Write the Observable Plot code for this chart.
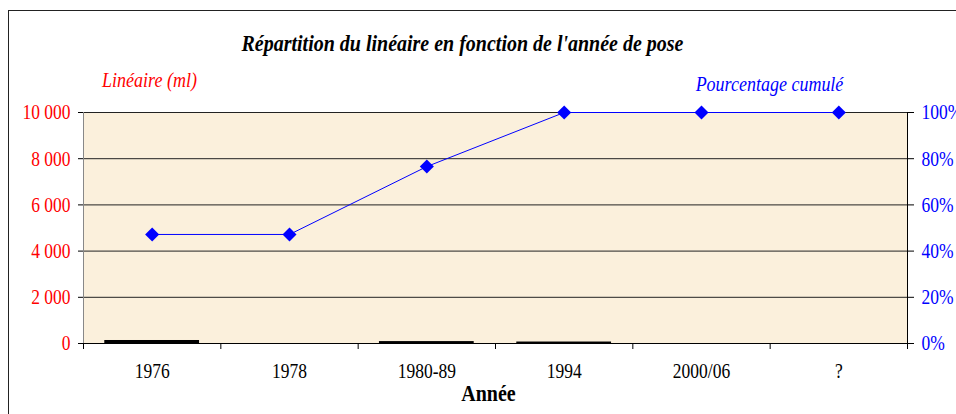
<!DOCTYPE html>
<html>
<head>
<meta charset="utf-8">
<script src="https://cdn.jsdelivr.net/npm/d3@7"></script>
<script src="https://cdn.jsdelivr.net/npm/@observablehq/plot@0.6"></script>
<style>
  body { margin: 0; background: #fff; }
  #chart { position: relative; width: 956px; height: 414px; overflow: hidden; }
  #box { position: absolute; left: 8px; top: 10px; width: 1000px; height: 500px; border: 1.5px solid #222; }
  #chart svg { position: absolute; left: 0; top: 0; }
</style>
</head>
<body>
<div id="chart"><div id="box"></div></div>
<script>
// Linear metres laid per installation period, and cumulative share
const categories = ["1976", "1978", "1980-89", "1994", "2000/06", "?"];
const lineaire = [130, 0, 83, 64, 0, 0];          // ml
const cumul = [47.2, 47.2, 76.6, 100, 100, 100];  // %
const leftTicks = [0, 2000, 4000, 6000, 8000, 10000];
const rightTicks = [0, 20, 40, 60, 80, 100];

const RED = "#ff0000";
const BLUE = "#0000ff";
const MAX = 10000;
const TICK_FONT = 17.5;

const rows = categories.map((c, i) => ({c, i, ml: lineaire[i], pct: cumul[i]}));

// French thousands separator: "10 000"
const frFormat = d3.formatLocale({decimal: ",", thousands: " ", grouping: [3], currency: ["", " €"]}).format(",");

// Excel-style diamond (a square turned 45°)
const diamond = {
  draw(ctx, size) {
    const r = Math.sqrt(size / 2);
    ctx.moveTo(0, -r); ctx.lineTo(r, 0); ctx.lineTo(0, r); ctx.lineTo(-r, 0); ctx.closePath();
  }
};

const chart = Plot.plot({
  width: 956,
  height: 414,
  marginTop: 112,
  marginLeft: 83,
  marginRight: 49,
  marginBottom: 71,
  style: {fontFamily: "'Liberation Serif', 'Times New Roman', serif", fontSize: "17px", background: "transparent"},
  x: {type: "linear", domain: [0, categories.length], axis: null},
  y: {domain: [0, MAX], axis: null},
  marks: [
    Plot.frame({fill: "#fbf0dc", stroke: null}),
    Plot.ruleY(leftTicks, {stroke: "#222", strokeWidth: 1}),
    Plot.rectY(rows, {x1: d => d.i + 0.155, x2: d => d.i + 0.845, y: "ml", fill: "#000"}),
    Plot.ruleX([0], {stroke: "#888"}),
    Plot.ruleX([categories.length], {stroke: "#000"}),
    Plot.ruleY([0], {stroke: "#000"}),
    // left axis (ml)
    Plot.axisY(leftTicks, {anchor: "left", tickSize: 5, tickPadding: 8, tickFormat: frFormat, fill: RED, stroke: "#000", fontSize: TICK_FONT, label: null}),
    // right axis (cumulative %)
    Plot.axisY(rightTicks.map(t => t * MAX / 100), {anchor: "right", tickSize: 6, tickPadding: 8, tickFormat: d => Math.round(d * 100 / MAX) + "%", fill: BLUE, stroke: "#000", fontSize: TICK_FONT, label: null}),
    // category boundaries
    Plot.axisX(d3.range(categories.length + 1), {anchor: "bottom", tickSize: 6, tickFormat: () => "", stroke: "#000", label: null}),
    // category labels
    Plot.axisX(rows.map(d => d.i + 0.5), {anchor: "bottom", tickSize: 0, tickPadding: 21, tickFormat: d => categories[Math.round(d - 0.5)], fill: "#000", fontSize: TICK_FONT, label: null}),
    Plot.line(rows, {x: d => d.i + 0.5, y: d => d.pct * MAX / 100, stroke: BLUE, strokeWidth: 1}),
    Plot.dot(rows, {x: d => d.i + 0.5, y: d => d.pct * MAX / 100, symbol: diamond, r: 5.6, fill: BLUE, stroke: null}),
    // titles
    Plot.text(["Répartition du linéaire en fonction de l'année de pose"], {frameAnchor: "top", lineAnchor: "middle", dx: -33, dy: -69.5, fontSize: 20, fontWeight: "bold", fontStyle: "italic", fill: "#000"}),
    Plot.text(["Linéaire (ml)"], {frameAnchor: "top-left", lineAnchor: "middle", dx: 66, dy: -32, textAnchor: "middle", fontSize: 18, fontStyle: "italic", fill: RED}),
    Plot.text(["Pourcentage cumulé"], {frameAnchor: "top-right", lineAnchor: "middle", dx: -138, dy: -28, textAnchor: "middle", fontSize: 18, fontStyle: "italic", fill: BLUE}),
    Plot.text(["Année"], {frameAnchor: "bottom", lineAnchor: "middle", dx: -7, dy: 50, fontSize: 20, fontWeight: "bold", fill: "#000"})
  ]
});

document.getElementById("chart").appendChild(chart);

// Tall, narrow type: stretch every label vertically about its own centre line
const STRETCH = 1.2;
chart.querySelectorAll("text").forEach(t => {
  let box;
  try { box = t.getBBox(); } catch (e) { return; }
  const cy = box.y + box.height / 2;
  if (!isFinite(cy) || box.height === 0) return;
  const tr = t.getAttribute("transform") || "";
  t.setAttribute("transform", `${tr} translate(0 ${(cy * (1 - STRETCH)).toFixed(2)}) scale(1 ${STRETCH})`.trim());
});
</script>
</body>
</html>
